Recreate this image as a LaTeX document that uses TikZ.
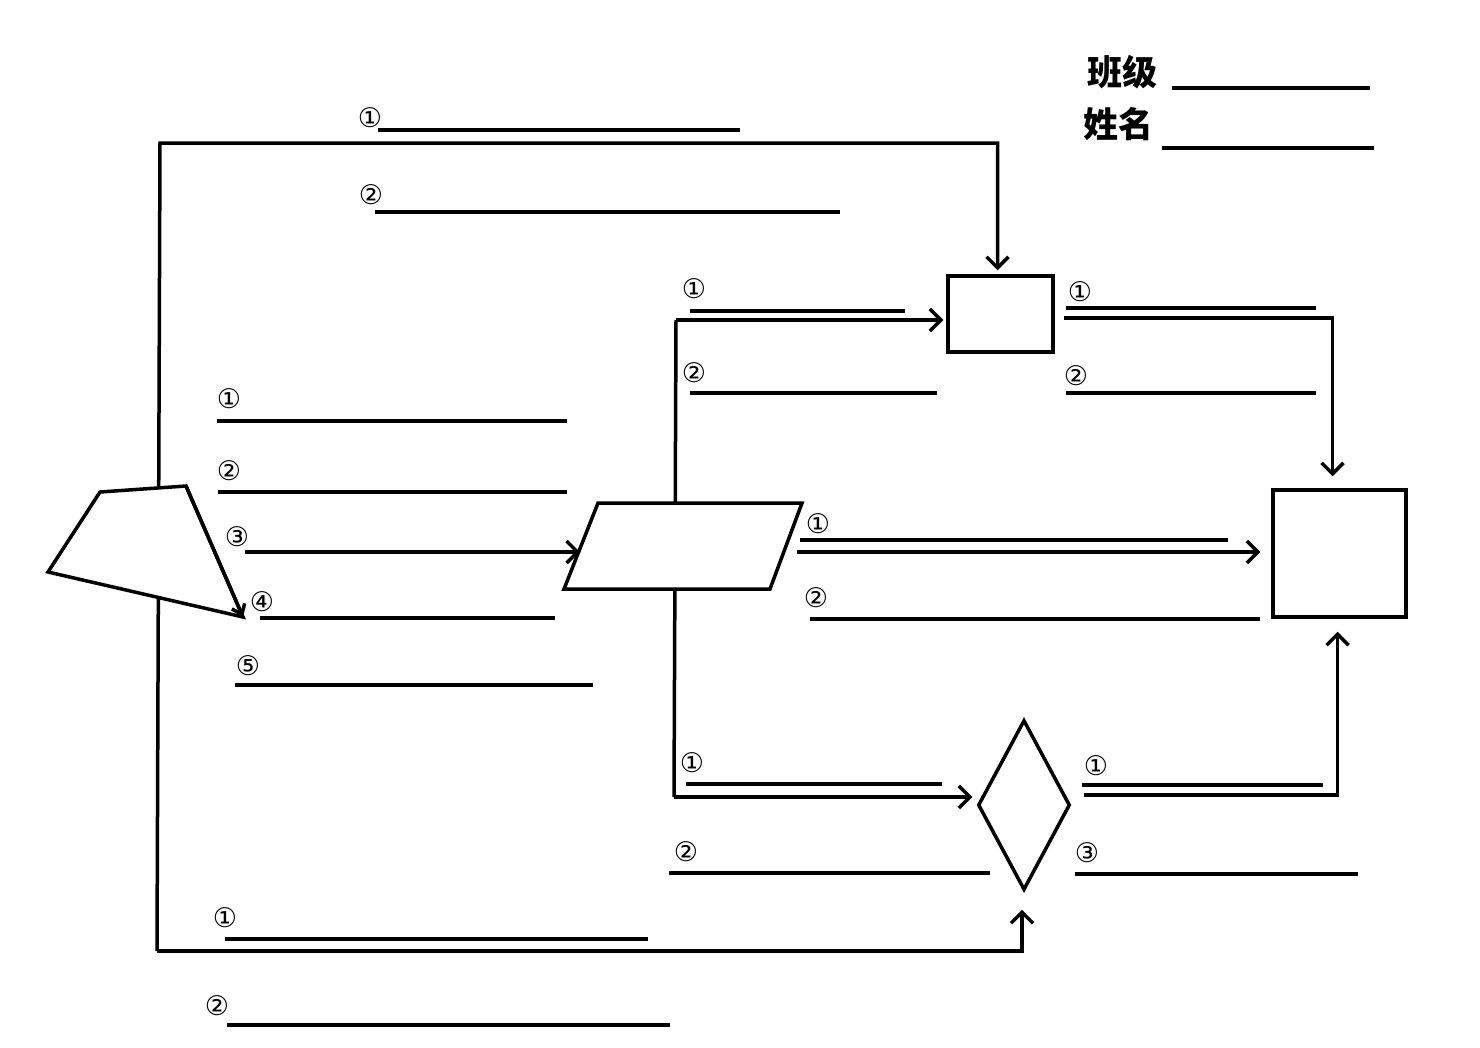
\documentclass[tikz,border=0pt]{standalone}
\usepackage{fontspec}
\setmainfont{DejaVu Sans}
\newfontfamily\cjk{Noto Sans CJK SC}
\usetikzlibrary{arrows.meta,shapes.geometric}
\begin{document}
\begin{tikzpicture}[x=1pt,y=-1pt,
  ln/.style={line width=3.5pt},
  blank/.style={line width=3.5pt},
  arr/.style={line width=3.5pt,-{Straight Barb[length=11pt,width=22pt,line width=3.5pt]}},
  num/.style={font=\fontsize{27}{27}\selectfont, inner sep=0pt},
  hdr/.style={font=\cjk\bfseries\fontsize{35}{35}\selectfont, inner sep=0pt},
  shp/.style={draw, line width=3.5pt, fill=white, inner sep=0pt}]
\useasboundingbox (0,0) rectangle (1480,1047);

% header
\node[hdr] (cls) at (1122,72) {班级};
\draw[blank] (1172,88) -- (1370,88);
\node[hdr] (nm) at (1118,124) {姓名};
\draw[blank] (1162,148) -- (1374,148);

% main frame line on the left
\coordinate (tl) at (160,143);
\coordinate (bl) at (157,951);
\coordinate (vtop) at (676,320);
\coordinate (vbot) at (674,797);

% shapes
\node[shp, minimum width=105pt, minimum height=76pt] (b1) at (1000.5,314) {};
\node[shp, minimum width=133pt, minimum height=127pt] (b2) at (1339.5,553.5) {};
\node[shp, diamond, minimum width=92pt, minimum height=170pt] (dia) at (1024,805) {};

% connectors
\draw[arr] (bl) -- (tl) -| ([xshift=-3pt,yshift=4pt]b1.north);
\draw[arr] (bl) -| ([xshift=-2pt,yshift=-18pt]dia.south);
\draw[ln] (vtop) -- (vbot);
\draw[arr] (vtop) -- ([xshift=-3pt]b1.west |- vtop);
\draw[arr] (vbot) -- ([xshift=-4pt]dia.west |- vbot);
\draw[arr] (1064,318) -| ([xshift=-7pt,yshift=12pt]b2.north);
\draw[arr] (1084,795) -| ([xshift=-2pt,yshift=-13pt]b2.south);

% parallelogram
\draw[shp] (598,503) coordinate (p1) -- (802,503) coordinate (p2) -- (770,589) coordinate (p3) -- (564,589) coordinate (p4) -- cycle;
\coordinate (parL) at (580,552);
\coordinate (parR) at (797,552);
\coordinate (a3) at (245,552);
\draw[arr] (a3) -- (parL);
\draw[arr] (parR) -- ([xshift=-11pt]b2.west |- parR);

% quadrilateral at the left
\draw[shp] (100,492) coordinate (q1) -- (186,486) coordinate (q2) -- (243,617) coordinate (q3) -- (48,572) coordinate (q4) -- cycle;
\draw[line width=3.5pt,-{Straight Barb[length=9pt,width=14pt,line width=3.5pt]}] (q2) -- (q3);

% top blanks
\node[num] (t1) at (370,118) {①};
\draw[blank] (378,130) -- (740,130);
\node[num] (t2) at (371,195) {②};
\draw[blank] (375,212) -- (840,212);

% left blanks
\node[num] (l1) at (229,399) {①};
\draw[blank] (217,421) -- (567,421);
\node[num] (l2) at (229,471) {②};
\draw[blank] (218,492) -- (567,492);
\node[num] (l3) at (237,537) {③};
\node[num] (l4) at (262,602) {④};
\draw[blank] (260,618) -- (555,618);
\node[num] (l5) at (248,666) {⑤};
\draw[blank] (235,685) -- (593,685);

% blanks at box 1, left
\node[num] (u1) at (694,289) {①};
\draw[blank] (690,311) -- (905,311);
\node[num] (u2) at (694,373) {②};
\draw[blank] (690,393) -- (937,393);

% blanks at box 1, right
\node[num] (r1) at (1080,292) {①};
\draw[blank] (1066,308) -- (1316,308);
\node[num] (r2) at (1076,376) {②};
\draw[blank] (1066,393) -- (1316,393);

% blanks right of parallelogram
\node[num] (m1) at (818,524) {①};
\draw[blank] (800,540) -- (1228,540);
\node[num] (m2) at (816,598) {②};
\draw[blank] (810,619) -- (1260,619);

% blanks left of diamond
\node[num] (d1) at (692,763) {①};
\draw[blank] (686,784) -- (942,784);
\node[num] (d2) at (686,852) {②};
\draw[blank] (669,873) -- (990,873);

% blanks right of diamond
\node[num] (e1) at (1096,766) {①};
\draw[blank] (1082,785) -- (1323,785);
\node[num] (e3) at (1087,853) {③};
\draw[blank] (1075,874) -- (1358,874);

% bottom blanks
\node[num] (f1) at (225,918) {①};
\draw[blank] (225,939) -- (648,939);
\node[num] (f2) at (217,1006) {②};
\draw[blank] (227,1025) -- (670,1025);
\end{tikzpicture}
\end{document}
